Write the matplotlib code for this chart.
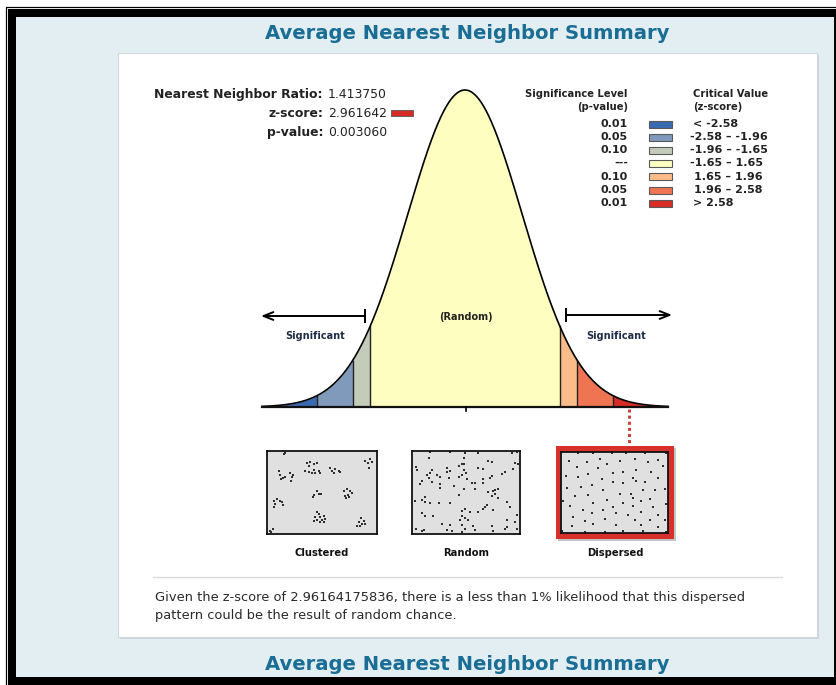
import numpy as np
import matplotlib
matplotlib.use('Agg')
import matplotlib.pyplot as plt
from matplotlib.patches import Rectangle

W, H = 836, 685

# ---------------- data ----------------
title = "Average Nearest Neighbor Summary"
nn_ratio = "1.413750"
z_score_text = "2.961642"
p_value_text = "0.003060"
z_full = "2.96164175836"
critical_z = [-2.58, -1.96, -1.65, 1.65, 1.96, 2.58]
z_extent = 3.54
band_colors = ['#3a6bb2', '#7f9aba', '#c3cbb9', '#fefec0', '#fbbc89', '#ee7452', '#d72b26']
legend_p = ['0.01', '0.05', '0.10', '---', '0.10', '0.05', '0.01']
legend_z = ['< -2.58', '-2.58 \u2013 -1.96', '-1.96 \u2013 -1.65', '-1.65 \u2013 1.65',
            '1.65 \u2013 1.96', '1.96 \u2013 2.58', '> 2.58']
pattern_labels = ['Clustered', 'Random', 'Dispersed']

clustered_x = [65, 68, 50, 55, 62, 68, 58, 85, 90, 87, 92,
               135, 145, 155, 165, 140, 130, 140, 150, 155, 160, 170, 175,
               205, 210, 220, 230, 235, 215, 310, 318, 325, 330, 320,
               165, 170, 155, 178, 152, 245, 255, 265, 270, 250, 258, 262, 252,
               35, 45, 55, 60, 40, 62, 35,
               165, 170, 160, 175, 185, 165, 180, 190, 155, 175, 185,
               298, 305, 290, 300, 285, 295, 308, 25, 32, 28]
clustered_y = [25, 22, 75, 88, 95, 92, 98, 80, 92, 105, 88,
               50, 48, 55, 52, 60, 75, 78, 82, 72, 80, 75, 82,
               65, 75, 70, 75, 78, 80, 45, 52, 40, 48, 65,
               135, 145, 148, 145, 155, 135, 130, 135, 140, 150, 148, 155, 158,
               165, 160, 165, 170, 175, 178, 185,
               198, 205, 215, 215, 212, 222, 222, 220, 225, 230, 230,
               218, 225, 230, 235, 240, 240, 235, 255, 250, 258]

random_x = [68, 130, 175, 215, 315, 330,
            65, 170, 245, 255, 325, 335,
            28, 30, 75, 70, 120, 130, 120, 155, 165, 172, 170, 178, 215, 230, 295, 320,
            60, 65, 90, 100, 125, 155, 165, 180, 230, 255, 250, 285,
            45, 38, 75, 98, 100, 140, 195, 205, 230, 170, 205,
            155, 245, 258, 265, 275, 255, 265,
            55, 45, 25, 55, 70, 95, 130, 240, 275, 300, 310,
            235, 230, 260,
            175, 165, 190, 215, 45, 55, 78, 330,
            165, 175, 160, 185, 300,
            105, 130, 165, 200, 255, 300, 325,
            28, 50, 45, 120, 135, 165, 175, 205, 260, 295, 330]
random_y = [18, 18, 20, 20, 20, 18,
            35, 35, 45, 48, 50, 55,
            62, 72, 72, 82, 65, 75, 78, 60, 55, 55, 72, 80, 65, 70, 78, 68,
            88, 95, 88, 92, 95, 92, 88, 100, 98, 90, 95, 85,
            105, 115, 108, 115, 125, 120, 112, 110, 110, 128, 130,
            148, 138, 135, 132, 128, 150, 145,
            155, 162, 165, 168, 172, 172, 172, 178, 158, 168, 183,
            185, 190, 192,
            190, 195, 200, 200, 202, 210, 212, 208,
            212, 218, 222, 222, 222,
            235, 238, 238, 242, 242, 245, 228,
            250, 252, 255, 252, 255, 258, 250, 252, 255, 250, 250]

dispersed_x = [78, 125, 180, 225, 280, 345,
               52, 105, 145, 205, 250, 290, 320,
               75, 140, 165, 185, 215, 255, 300, 335,
               42, 78, 110, 150, 245, 280, 320,
               45, 88, 120, 185, 215, 255,
               155, 205, 240, 275, 310, 340,
               70, 110, 165, 245, 295,
               35, 125, 215, 270, 345,
               55, 95, 155, 185, 245, 305,
               65, 120, 195, 230, 270, 320,
               100, 160, 250, 295, 340,
               60, 125, 195, 270, 320,
               30, 100, 160, 215, 275, 345]
dispersed_y = [30, 30, 30, 30, 30, 30,
               55, 58, 48, 55, 48, 60, 52,
               75, 78, 65, 92, 88, 82, 88, 72,
               102, 103, 95, 110, 108, 118, 108,
               138, 135, 128, 120, 122, 115,
               145, 155, 155, 145, 143, 140,
               162, 158, 175, 168, 170,
               178, 182, 182, 178, 188,
               192, 205, 205, 195, 192, 195,
               225, 215, 215, 220, 210, 220,
               238, 232, 235, 235, 235,
               255, 248, 250, 252, 258,
               270, 272, 272, 270, 270, 272]

# ---------------- layout helpers ----------------
fig = plt.figure(figsize=(W / 100, H / 100), dpi=100)
fig.patch.set_facecolor('white')
renderer = fig.canvas.get_renderer()


def px_axes(x0, y0, x1, y1, **kw):
    return fig.add_axes([x0 / W, 1 - y1 / H, (x1 - x0) / W, (y1 - y0) / H], **kw)


def fit(t, width):
    w = t.get_window_extent(renderer).width
    t.set_fontsize(t.get_fontsize() * width / w)
    return t.get_fontsize()


ax0 = px_axes(0, 0, W, H)
ax0.set_xlim(0, W)
ax0.set_ylim(H, 0)
ax0.axis('off')

# frame / page
ax0.add_patch(Rectangle((5.5, 6.5), W, H, fill=False, ec='black', lw=0.9))
ax0.add_patch(Rectangle((8, 9), W, H, fc='black', ec='none'))
ax0.add_patch(Rectangle((16, 17), 818, 660, fc='#e3eef3', ec='none'))
ax0.add_patch(Rectangle((119.5, 54.5), 699, 584, fc='#cdd3d6', ec='none'))
ax0.add_patch(Rectangle((118, 53), 699, 584, fc='white', ec='#d3d8db', lw=0.8))
ax0.plot([153, 782], [577, 577], color='#d9d9d9', lw=1.0)

TITLE_C = '#1a6e95'
t1 = ax0.text(467, 39, title, ha='center', va='baseline', color=TITLE_C,
              fontweight='bold', fontsize=15)
fs_title = fit(t1, 407)
ax0.text(467, 670, title, ha='center', va='baseline', color=TITLE_C,
         fontweight='bold', fontsize=fs_title)

# top-left stats
TXT = '#222222'
lab = ax0.text(323, 94, 'Nearest Neighbor Ratio:', ha='right', va='center',
               fontweight='bold', color=TXT, fontsize=8)
fs_lab = fit(lab, 169)
for y, l, v in [(94, None, nn_ratio), (113, 'z-score:', z_score_text),
                (132, 'p-value:', p_value_text)]:
    if l:
        ax0.text(323, y, l, ha='right', va='center', fontweight='bold',
                 color=TXT, fontsize=fs_lab)
    ax0.text(328, y, v, ha='left', va='center', color=TXT, fontsize=fs_lab)
# colour of the band the z-score falls in
band_idx = int(np.searchsorted(critical_z, float(z_score_text)))
ax0.add_patch(Rectangle((391, 110), 22, 6, fc=band_colors[band_idx],
                        ec='#555555', lw=0.6))

# legend
hdr = ax0.text(525, 94, 'Significance Level', ha='left', va='center',
               fontweight='bold', color=TXT, fontsize=6)
fs_leg = fit(hdr, 103)
ax0.text(628, 107, '(p-value)', ha='right', va='center', fontweight='bold',
         color=TXT, fontsize=fs_leg)
ax0.text(693, 94, 'Critical Value', ha='left', va='center', fontweight='bold',
         color=TXT, fontsize=fs_leg)
ax0.text(693, 107, '(z-score)', ha='left', va='center', fontweight='bold',
         color=TXT, fontsize=fs_leg)
row_y = [124, 137, 150, 163, 176.5, 190, 203]
z_x = [693, 690, 690, 690, 694, 694, 693]
for y, p, zt, c, zx in zip(row_y, legend_p, legend_z, band_colors, z_x):
    ax0.text(628, y, p, ha='right', va='center', fontweight='bold',
             color=TXT, fontsize=fs_leg * 1.12)
    ax0.add_patch(Rectangle((649, y - 3.5), 23, 7, fc=c, ec='#5a5a5a', lw=0.8))
    ax0.text(zx, y, zt, ha='left', va='center', fontweight='bold',
             color=TXT, fontsize=fs_leg * 1.12)

# ---------------- bell curve ----------------
pdf = lambda z: np.exp(-0.5 * z ** 2) / np.sqrt(2 * np.pi)
axc = px_axes(262, 90, 668, 407)
axc.set_xlim(-z_extent, z_extent)
axc.set_ylim(0, pdf(0))
axc.axis('off')
axc.patch.set_alpha(0)
edges = [-z_extent] + critical_z + [z_extent]
for a, b, c in zip(edges[:-1], edges[1:], band_colors):
    zz = np.linspace(a, b, 200)
    axc.fill_between(zz, 0, pdf(zz), color=c, lw=0)
for cz in critical_z:
    axc.plot([cz, cz], [0, pdf(cz)], color='#222222', lw=1.0)
zz = np.linspace(-z_extent, z_extent, 800)
axc.plot(zz, pdf(zz), color='black', lw=1.2, clip_on=False)
axc.plot([-z_extent, z_extent], [0, 0], color='#111111', lw=1.6, clip_on=False)

# overlay for annotations above the curve
axo = px_axes(0, 0, W, H)
axo.set_xlim(0, W)
axo.set_ylim(H, 0)
axo.axis('off')
axo.patch.set_alpha(0)

axo.annotate('', xy=(261, 316), xytext=(365, 316),
             arrowprops=dict(arrowstyle='->,head_length=0.7,head_width=0.28',
                             lw=1.4, color='black', shrinkA=0, shrinkB=0))
axo.plot([365, 365], [310, 322], color='black', lw=1.4)
axo.annotate('', xy=(672, 315), xytext=(566, 315),
             arrowprops=dict(arrowstyle='->,head_length=0.7,head_width=0.28',
                             lw=1.4, color='black', shrinkA=0, shrinkB=0))
axo.plot([566, 566], [309, 321], color='black', lw=1.4)
axo.plot([466, 466], [407, 411], color='black', lw=1.2)

sig = axo.text(315, 336, 'Significant', ha='center', va='center',
               fontweight='bold', color='#1f2d4a', fontsize=6)
fs_sig = fit(sig, 60)
axo.text(616, 336, 'Significant', ha='center', va='center',
         fontweight='bold', color='#1f2d4a', fontsize=fs_sig)
axo.text(466, 317, '(Random)', ha='center', va='center', fontweight='bold',
         color='#222222', fontsize=fs_sig)

# dotted connector
axo.plot([629, 629], [409, 446], color='#c9433b', lw=2.2,
         linestyle=(0, (1, 1)), solid_capstyle='butt')

# ---------------- pattern boxes ----------------
axo.add_patch(Rectangle((558, 448), 118, 93, fc='#c4c4c4', ec='none'))
axo.add_patch(Rectangle((556, 446), 118, 93, fc='#d8312b', ec='none'))

boxes = [((267, 451, 377, 534), (15, 345, 265, 15), clustered_x, clustered_y),
         ((412, 451, 520, 534), (15, 340, 265, 15), random_x, random_y),
         ((561, 452, 668, 533), (28, 350, 275, 28), dispersed_x, dispersed_y)]
for (x0, y0, x1, y1), (xa, xb, ya, yb), xs, ys in boxes:
    ab = px_axes(x0, y0, x1, y1)
    ab.set_facecolor('#e0e0e0')
    ab.set_xlim(xa, xb)
    ab.set_ylim(ya, yb)
    ab.set_xticks([])
    ab.set_yticks([])
    for s in ab.spines.values():
        s.set_color('#111111')
        s.set_linewidth(1.3)
    ab.plot(xs, ys, 's', color='#2e2e2e', ms=2.1, mew=0, clip_on=False)

centers = [322, 466, 615]
lb = axo.text(centers[0], 553, pattern_labels[0], ha='center', va='center',
              fontweight='bold', color='#111111', fontsize=6)
fs_pl = fit(lb, 55)
for cx, l in zip(centers[1:], pattern_labels[1:]):
    axo.text(cx, 553, l, ha='center', va='center', fontweight='bold',
             color='#111111', fontsize=fs_pl)

# ---------------- explanation ----------------
line1 = ('Given the z-score of ' + z_full +
         ', there is a less than 1% likelihood that this dispersed')
line2 = 'pattern could be the result of random chance.'
p1 = axo.text(155, 598, line1, ha='left', va='center', color='#2a2a2a', fontsize=8)
fs_p = fit(p1, 589)
axo.text(155, 616, line2, ha='left', va='center', color='#2a2a2a', fontsize=fs_p)

fig.savefig('out.png', dpi=100)
